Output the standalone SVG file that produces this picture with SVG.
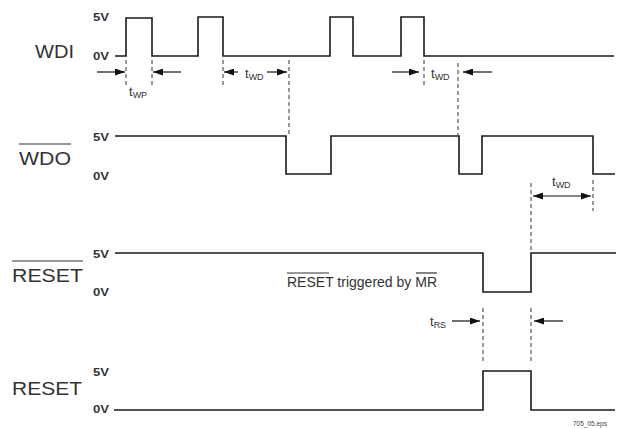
<svg xmlns="http://www.w3.org/2000/svg" width="619" height="429" viewBox="0 0 619 429">
<defs>
<marker id="ah" markerUnits="userSpaceOnUse" markerWidth="10" markerHeight="7" refX="10" refY="3.5" orient="auto-start-reverse">
<path d="M0,0 L10,3.5 L0,7 z" fill="#111"/>
</marker>
<style>
.sig{fill:none;stroke:#1a1a1a;stroke-width:1.6}
.dash{fill:none;stroke:#333;stroke-width:1;stroke-dasharray:4,3}
.arr{fill:none;stroke:#111;stroke-width:1.2}
.name{font-family:"Liberation Sans",Arial,sans-serif;font-size:18px;fill:#333}
.volt{font-family:"Liberation Sans",Arial,sans-serif;font-size:10.5px;font-weight:bold;fill:#333}
.t{font-family:"Liberation Sans",Arial,sans-serif;font-size:13px;fill:#333}
.sub{font-size:9px}
.ol{stroke:#333;stroke-width:1.2}
.note{font-family:"Liberation Sans",Arial,sans-serif;font-size:14px;fill:#333}
.eps{font-family:"Liberation Sans",Arial,sans-serif;font-size:6.5px;fill:#444}
</style>
</defs>
<rect width="619" height="429" fill="#fff"/>

<g id="wdi">
<text class="name" x="35" y="58" textLength="39" lengthAdjust="spacingAndGlyphs">WDI</text>
<text class="volt" x="93" y="21" textLength="16" lengthAdjust="spacingAndGlyphs">5V</text>
<text class="volt" x="93" y="60" textLength="16" lengthAdjust="spacingAndGlyphs">0V</text>
<path class="sig" d="M115,56 H126 V18 H152 V56 H198 V17 H223 V56 H330 V17 H353 V56 H401 V17 H424 V56 H614"/>
</g>

<g id="wdo">
<text class="name" x="19" y="165" textLength="52" lengthAdjust="spacingAndGlyphs">WDO</text>
<line class="ol" x1="19" y1="144" x2="71" y2="144"/>
<text class="volt" x="93" y="141" textLength="16" lengthAdjust="spacingAndGlyphs">5V</text>
<text class="volt" x="93" y="180" textLength="16" lengthAdjust="spacingAndGlyphs">0V</text>
<path class="sig" d="M115,136 H286 V174 H331 V136 H459 V174 H482 V136 H593 V174 H615"/>
</g>

<g id="reset-bar">
<text class="name" x="12" y="282" textLength="71" lengthAdjust="spacingAndGlyphs">RESET</text>
<line class="ol" x1="12" y1="261" x2="83" y2="261"/>
<text class="volt" x="93" y="258" textLength="16" lengthAdjust="spacingAndGlyphs">5V</text>
<text class="volt" x="93" y="296" textLength="16" lengthAdjust="spacingAndGlyphs">0V</text>
<path class="sig" d="M115,253 H483 V292 H531 V253 H616"/>
<text class="note" x="287" y="287" textLength="150" lengthAdjust="spacingAndGlyphs">RESET triggered by MR</text>
<line class="ol" x1="287" y1="273" x2="329" y2="273"/>
<line class="ol" x1="416" y1="273" x2="437" y2="273"/>
</g>

<g id="reset">
<text class="name" x="12" y="395" textLength="70" lengthAdjust="spacingAndGlyphs">RESET</text>
<text class="volt" x="93" y="376" textLength="16" lengthAdjust="spacingAndGlyphs">5V</text>
<text class="volt" x="93" y="413" textLength="16" lengthAdjust="spacingAndGlyphs">0V</text>
<path class="sig" d="M114,410 H483 V371 H531 V410 H615"/>
</g>

<g id="connectors">
<line class="dash" x1="126" y1="60" x2="126" y2="88"/>
<line class="dash" x1="152" y1="60" x2="152" y2="88"/>
<line class="dash" x1="223" y1="60" x2="223" y2="88"/>
<line class="dash" x1="289" y1="60" x2="289" y2="136"/>
<line class="dash" x1="424" y1="60" x2="424" y2="87"/>
<line class="dash" x1="458" y1="63" x2="458" y2="136"/>
<line class="dash" x1="531" y1="183" x2="531" y2="250"/>
<line class="dash" x1="593" y1="180" x2="593" y2="211"/>
<line class="dash" x1="483" y1="308" x2="483" y2="363"/>
<line class="dash" x1="531" y1="308" x2="531" y2="363"/>

<line class="arr" x1="97" y1="72" x2="125" y2="72" marker-end="url(#ah)"/>
<line class="arr" x1="181" y1="72" x2="153" y2="72" marker-end="url(#ah)"/>
<line class="arr" x1="238" y1="72" x2="224" y2="72" marker-end="url(#ah)"/>
<line class="arr" x1="267" y1="72" x2="287" y2="72" marker-end="url(#ah)"/>
<line class="arr" x1="392" y1="72" x2="419" y2="72" marker-end="url(#ah)"/>
<line class="arr" x1="492" y1="72" x2="463" y2="72" marker-end="url(#ah)"/>
<line class="arr" x1="533" y1="196" x2="591" y2="196" marker-start="url(#ah)" marker-end="url(#ah)"/>
<line class="arr" x1="452" y1="321" x2="480" y2="321" marker-end="url(#ah)"/>
<line class="arr" x1="563" y1="321" x2="534" y2="321" marker-end="url(#ah)"/>

<text class="t" x="129" y="96">t<tspan class="sub" dy="2">WP</tspan></text>
<text class="t" x="245" y="78">t<tspan class="sub" dy="2">WD</tspan></text>
<text class="t" x="431" y="78">t<tspan class="sub" dy="2">WD</tspan></text>
<text class="t" x="552" y="186">t<tspan class="sub" dy="2">WD</tspan></text>
<text class="t" x="430" y="326">t<tspan class="sub" dy="2">RS</tspan></text>
</g>

<text class="eps" x="573" y="426">705_05.eps</text>
</svg>
